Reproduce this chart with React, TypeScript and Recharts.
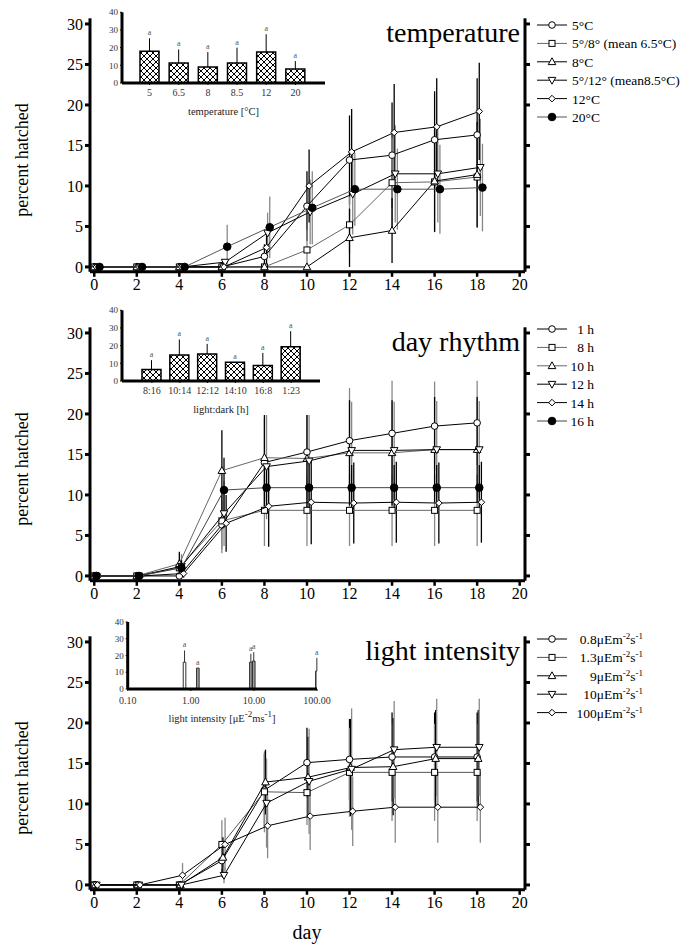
import React from 'react';
import {
  Bar,
  BarChart,
  Cell,
  ComposedChart,
  ErrorBar,
  LabelList,
  Scatter,
  XAxis,
  YAxis
} from 'recharts';

const SERIF = "'Liberation Serif', 'Times New Roman', serif";

// shared axes
const days = [0, 2, 4, 6, 8, 10, 12, 14, 16, 18];
const dayTicks = [0, 2, 4, 6, 8, 10, 12, 14, 16, 18, 20];
const pctTicks = [0, 5, 10, 15, 20, 25, 30];

// temperature panel
const temp5 = [0, 0, 0, 0, 1.3, 7.5, 13.2, 13.8, 15.7, 16.3];
const temp5Err = [0, 0, 0, 0, 1.5, 4.3, 5.5, 6.5, 6, 7];
const temp58 = [0, 0, 0, 0, 0, 2.1, 5.2, 10.4, 10.5, 11.1];
const temp58Err = [0, 0, 0, 0, 0, 2.5, 3.5, 5.5, 6, 6.3];
const temp8 = [0, 0, 0, 0, 0, 0, 3.6, 4.5, 10.6, 11.4];
const temp8Err = [0, 0, 0, 0, 0, 0, 3.6, 4, 6.3, 6.5];
const temp512 = [0, 0, 0, 0.6, 4.2, 6.8, 9.0, 11.5, 11.5, 12.3];
const temp512Err = [0, 0, 0, 0, 2.5, 4, 5, 6, 6, 6];
const temp12 = [0, 0, 0, 0, 2.4, 10.0, 14.2, 16.6, 17.3, 19.2];
const temp12Err = [0, 0, 0, 0, 2, 4.5, 5.3, 6, 6, 6];
const temp20 = [0, 0, 0, 2.5, 4.9, 7.3, 9.6, 9.6, 9.6, 9.8];
const temp20Err = [0, 0, 0, 2.7, 3.8, 4.5, 4.5, 5, 5.5, 5.4];

// day rhythm panel
const day1 = [0, 0, 0, 6.3, 14.0, 15.3, 16.7, 17.6, 18.5, 18.9];
const day1Err = [0, 0, 0, 3, 5.5, 6, 6.5, 6.5, 5.5, 5.2];
const day8 = [0, 0, 1.0, 6.8, 8.1, 8.1, 8.1, 8.1, 8.1, 8.1];
const day8Err = [0, 0, 1, 4, 4.4, 4.4, 4.4, 4.4, 4.4, 4.4];
const day10 = [0, 0, 1.5, 13.0, 14.6, 14.5, 15.2, 15.2, 15.6, 15.6];
const day10Err = [0, 0, 1.5, 5, 6, 6.5, 6.5, 6.5, 6.5, 6.5];
const day12 = [0, 0, 1.2, 7.7, 13.5, 14.2, 15.5, 15.5, 15.6, 15.6];
const day12Err = [0, 0, 1.5, 4, 6.5, 6, 6, 6, 6, 6];
const day14 = [0, 0, 0.3, 6.5, 8.6, 9.1, 9.0, 9.1, 9.0, 9.1];
const day14Err = [0, 0, 0.5, 3.5, 5, 5.2, 5, 5, 5, 5];
const day16 = [0, 0, 1.0, 10.6, 10.9, 10.9, 10.9, 10.9, 10.9, 10.9];
const day16Err = [0, 0, 1, 4, 3, 2.8, 2.8, 2.8, 2.8, 2.8];

// light intensity panel
const light08 = [0, 0, 0, 3.0, 11.7, 15.1, 15.5, 15.8, 15.8, 15.8];
const light08Err = [0, 0, 0, 2, 4.5, 4.3, 5, 5.5, 5.5, 5.5];
const light13 = [0, 0, 0, 5.0, 11.5, 11.4, 13.9, 13.9, 13.9, 13.9];
const light13Err = [0, 0, 0, 3, 5, 4, 5.5, 6, 6, 6];
const light9 = [0, 0, 0, 3.4, 12.7, 13.3, 14.5, 14.6, 15.6, 15.6];
const light9Err = [0, 0, 0, 2.5, 4, 5, 6, 6, 6, 6];
const light10 = [0, 0, 0, 1.2, 10.1, 12.8, 14.3, 16.7, 17.0, 17.0];
const light10Err = [0, 0, 0, 1, 5.5, 6.5, 7.5, 6, 6, 6];
const light100 = [0, 0, 1.2, 5.0, 7.3, 8.5, 9.1, 9.6, 9.6, 9.6];
const light100Err = [0, 0, 1.5, 3.3, 4, 4.2, 4.3, 4.4, 4.4, 4.4];

// insets: total hatched per treatment
const tempCats = ['5', '6.5', '8', '8.5', '12', '20'];
const tempTotal = [18, 11.3, 9, 11.3, 17.5, 7.9];
const tempTotalErr = [7.3, 7.7, 8.5, 8.7, 10.1, 4.5];

const rhythmCats = ['8:16', '10:14', '12:12', '14:10', '16:8', '1:23'];
const rhythmTotal = [6.5, 14.7, 15.3, 10.6, 8.8, 19.4];
const rhythmTotalErr = [5.3, 8.8, 5.7, 0, 7.1, 8.8];

const lightLevels = [0.8, 1.3, 9, 10, 100];
const lightTotal = [16, 12.5, 16, 16.7, 10.7];
const lightTotalErr = [7, 0, 5, 5.3, 7.9];
const lightTicks = [0.1, 1, 10, 100];

type Shape = 'circle' | 'square' | 'up' | 'down' | 'diamond' | 'dot';

interface Series {
  name: string;
  values: number[];
  errs: number[];
  shape: Shape;
  line: string;
  errColor: string;
  dx: number;
}

const tempSeries: Series[] = [
  { name: '5°C', values: temp5, errs: temp5Err, shape: 'circle', line: '#000', errColor: '#000', dx: 0 },
  { name: '5°/8° (mean 6.5°C)', values: temp58, errs: temp58Err, shape: 'square', line: '#666', errColor: '#888', dx: 0 },
  { name: '8°C', values: temp8, errs: temp8Err, shape: 'up', line: '#000', errColor: '#000', dx: 0 },
  { name: '5°/12° (mean8.5°C)', values: temp512, errs: temp512Err, shape: 'down', line: '#000', errColor: '#888', dx: 0.15 },
  { name: '12°C', values: temp12, errs: temp12Err, shape: 'diamond', line: '#000', errColor: '#000', dx: 0.1 },
  { name: '20°C', values: temp20, errs: temp20Err, shape: 'dot', line: '#555', errColor: '#888', dx: 0.25 }
];

const rhythmSeries: Series[] = [
  { name: '1 h', values: day1, errs: day1Err, shape: 'circle', line: '#000', errColor: '#888', dx: 0 },
  { name: '8 h', values: day8, errs: day8Err, shape: 'square', line: '#666', errColor: '#888', dx: 0 },
  { name: '10 h', values: day10, errs: day10Err, shape: 'up', line: '#666', errColor: '#000', dx: 0 },
  { name: '12 h', values: day12, errs: day12Err, shape: 'down', line: '#000', errColor: '#888', dx: 0.1 },
  { name: '14 h', values: day14, errs: day14Err, shape: 'diamond', line: '#000', errColor: '#000', dx: 0.2 },
  { name: '16 h', values: day16, errs: day16Err, shape: 'dot', line: '#444', errColor: '#000', dx: 0.1 }
];

const lightSeries: Series[] = [
  { name: '0.8μEm^-2s^-1', values: light08, errs: light08Err, shape: 'circle', line: '#000', errColor: '#000', dx: 0 },
  { name: '1.3μEm^-2s^-1', values: light13, errs: light13Err, shape: 'square', line: '#555', errColor: '#888', dx: 0 },
  { name: '9μEm^-2s^-1', values: light9, errs: light9Err, shape: 'up', line: '#000', errColor: '#000', dx: 0.05 },
  { name: '10μEm^-2s^-1', values: light10, errs: light10Err, shape: 'down', line: '#000', errColor: '#888', dx: 0.1 },
  { name: '100μEm^-2s^-1', values: light100, errs: light100Err, shape: 'diamond', line: '#000', errColor: '#888', dx: 0.15 }
];

const Marker = ({ shape, cx, cy }: { shape: Shape; cx: number; cy: number }) => {
  const common = { fill: '#fff', stroke: '#000', strokeWidth: 1 };
  switch (shape) {
    case 'circle':
      return <circle cx={cx} cy={cy} r={3.3} {...common} />;
    case 'square':
      return <rect x={cx - 3} y={cy - 3} width={6} height={6} {...common} />;
    case 'up':
      return <polygon points={`${cx},${cy - 4} ${cx + 3.8},${cy + 2.8} ${cx - 3.8},${cy + 2.8}`} {...common} />;
    case 'down':
      return <polygon points={`${cx},${cy + 4} ${cx + 3.8},${cy - 2.8} ${cx - 3.8},${cy - 2.8}`} {...common} />;
    case 'diamond':
      return <polygon points={`${cx},${cy - 3.3} ${cx + 3.3},${cy} ${cx},${cy + 3.3} ${cx - 3.3},${cy}`} {...common} />;
    default:
      return <circle cx={cx} cy={cy} r={3.8} fill="#000" stroke="#000" />;
  }
};

const SupText = ({ text, ...rest }: any) => {
  const parts = text.split(/\^(-?\d+)/);
  return (
    <text {...rest}>
      {parts.map((p: string, i: number) =>
        i % 2 ? (
          <tspan key={i} dy={-5} fontSize={9}>{p}</tspan>
        ) : (
          <tspan key={i} dy={i ? 5 : 0}>{p}</tspan>
        )
      )}
    </text>
  );
};

const thick = { stroke: '#000', strokeWidth: 3 };

const TimeCourse = ({ series }: { series: Series[] }) => (
  <ComposedChart
    width={681}
    height={309}
    margin={{ top: 18.3, right: 146, bottom: 7.2, left: 15 }}
  >
    <XAxis
      dataKey="x"
      type="number"
      domain={[-0.2, 20.25]}
      ticks={dayTicks}
      allowDataOverflow
      height={30}
      axisLine={thick}
      tickLine={{ stroke: '#000', strokeWidth: 2.5 }}
      tickSize={5}
      tick={{ fill: '#000', fontSize: 16, fontFamily: SERIF }}
    />
    <XAxis
      xAxisId="top"
      orientation="top"
      type="number"
      domain={[-0.2, 20.25]}
      height={0}
      tick={false}
      tickLine={false}
      axisLine={{ stroke: '#000', strokeWidth: 4 }}
    />
    <YAxis
      dataKey="y"
      type="number"
      domain={[-0.6, 30.7]}
      ticks={pctTicks}
      allowDataOverflow
      width={75}
      axisLine={thick}
      tickLine={{ stroke: '#000', strokeWidth: 3 }}
      tickSize={5}
      tick={{ fill: '#000', fontSize: 16, fontFamily: SERIF }}
    />
    <YAxis
      yAxisId="r"
      orientation="right"
      type="number"
      domain={[-0.6, 30.7]}
      ticks={pctTicks}
      allowDataOverflow
      width={10}
      axisLine={thick}
      tickLine={{ stroke: '#000', strokeWidth: 3 }}
      tickSize={5}
      tickFormatter={() => ''}
    />
    {series.map((s) => (
      <Scatter
        key={s.name}
        name={s.name}
        data={days.map((d, i) => ({ x: d + s.dx, y: s.values[i], err: s.errs[i] }))}
        line={{ stroke: s.line, strokeWidth: 1 }}
        shape={(p: any) => <Marker shape={s.shape} cx={p.cx} cy={p.cy} />}
        isAnimationActive={false}
      >
        <ErrorBar dataKey="err" direction="y" width={0} stroke={s.errColor} strokeWidth={1.3} />
      </Scatter>
    ))}
  </ComposedChart>
);

const aLabel = (vals: number[], errs: number[]) => (p: any) => {
  const { x, y, width, height, index } = p;
  const perUnit = vals[index] ? Math.abs(height) / vals[index] : 0;
  const top = y - errs[index] * perUnit;
  return (
    <text x={x + width / 2} y={top - 3} textAnchor="middle" fontSize={8} fill="#555" fontFamily={SERIF}>
      a
    </text>
  );
};

const insetTick = { fill: '#333', fontSize: 9, fontFamily: SERIF };

const HatchDefs = ({ id }: { id: string }) => (
  <defs>
    <pattern id={id} width={6} height={6} patternUnits="userSpaceOnUse">
      <rect width={6} height={6} fill="#fff" />
      <path d="M0,0 L6,6 M6,0 L0,6" stroke="#000" strokeWidth={1} />
    </pattern>
  </defs>
);

const CategoryInset = ({
  id,
  cats,
  vals,
  errs,
  title,
  width,
  padding
}: {
  id: string;
  cats: string[];
  vals: number[];
  errs: number[];
  title: string;
  width: number;
  padding: { left: number; right: number };
}) => {
  const data = cats.map((c, i) => ({ cat: c, value: vals[i], range: [0, errs[i]] }));
  return (
    <BarChart width={width} height={112} data={data} margin={{ top: 7.3, right: 5, bottom: 2, left: 0 }}>
      <HatchDefs id={id} />
      <XAxis
        dataKey="cat"
        height={32}
        padding={padding}
        axisLine={thick}
        tickLine={{ stroke: '#000' }}
        tickSize={2}
        tickMargin={4}
        tick={{ ...insetTick, fontSize: 10 }}
        label={{ value: title, position: 'insideBottom', offset: 0, fill: '#222', fontSize: 10.5, fontFamily: SERIF }}
      />
      <YAxis
        type="number"
        domain={[0, 40]}
        ticks={[0, 10, 20, 30, 40]}
        width={29}
        axisLine={thick}
        tickLine={{ stroke: '#000' }}
        tickSize={2}
        tick={insetTick}
      />
      <Bar dataKey="value" fill={`url(#${id})`} stroke="#000" strokeWidth={1.5} barSize={19} isAnimationActive={false}>
        <ErrorBar dataKey="range" direction="y" width={0} stroke="#000" strokeWidth={1} />
        <LabelList dataKey="value" content={aLabel(vals, errs)} />
      </Bar>
    </BarChart>
  );
};

const LightInset = () => {
  const data = lightLevels.map((l, i) => ({ level: l, value: lightTotal[i], range: [0, lightTotalErr[i]] }));
  return (
    <BarChart width={242} height={112} data={data} margin={{ top: 8, right: 18, bottom: 4, left: 0 }}>
      <XAxis
        dataKey="level"
        type="number"
        scale="log"
        domain={[0.1, 100]}
        ticks={lightTicks}
        allowDataOverflow
        height={33}
        axisLine={thick}
        tickLine={{ stroke: '#000' }}
        tickSize={2}
        tickMargin={6}
        tick={{ ...insetTick, fontSize: 10 }}
        tickFormatter={(v: number) => v.toFixed(2)}
      />
      <YAxis
        type="number"
        domain={[0, 40]}
        ticks={[0, 10, 20, 30, 40]}
        width={34.7}
        axisLine={thick}
        tickLine={{ stroke: '#000' }}
        tickSize={2}
        tick={insetTick}
      />
      <Bar dataKey="value" barSize={3} stroke="#333" strokeWidth={1} isAnimationActive={false}>
        {data.map((d, i) => (
          <Cell key={i} fill={i === 0 ? '#fff' : '#9a9a9a'} />
        ))}
        <ErrorBar dataKey="range" direction="y" width={0} stroke="#333" strokeWidth={1} />
        <LabelList dataKey="value" content={aLabel(lightTotal, lightTotalErr)} />
      </Bar>
    </BarChart>
  );
};

const Legend = ({ series, y0, textX, anchor }: { series: Series[]; y0: number; textX: number; anchor: 'start' | 'end' }) => (
  <g>
    {series.map((s, i) => {
      const y = y0 + i * 18.4;
      return (
        <g key={s.name}>
          <line x1={537} x2={567} y1={y} y2={y} stroke={s.line} strokeWidth={1} />
          <Marker shape={s.shape} cx={552} cy={y} />
          <SupText text={s.name} x={textX} y={y + 5} textAnchor={anchor} fontSize={13.5} fontFamily={SERIF} fill="#000" />
        </g>
      );
    })}
  </g>
);

const panelTops = [0, 309, 618];
const titles = ['temperature', 'day rhythm', 'light intensity'];

export default function App() {
  return (
    <div style={{ position: 'absolute', left: 0, top: 0, width: 681, height: 947, background: '#fff' }}>
      {[tempSeries, rhythmSeries, lightSeries].map((s, i) => (
        <div key={i} style={{ position: 'absolute', left: 0, top: panelTops[i] }}>
          <TimeCourse series={s} />
        </div>
      ))}
      <div style={{ position: 'absolute', left: 93, top: 5, background: '#fff' }}>
        <CategoryInset
          id="hatchTemp"
          cats={tempCats}
          vals={tempTotal}
          errs={tempTotalErr}
          title="temperature [°C]"
          width={237}
          padding={{ left: 13, right: 15 }}
        />
      </div>
      <div style={{ position: 'absolute', left: 93, top: 303, background: '#fff' }}>
        <CategoryInset
          id="hatchDay"
          cats={rhythmCats}
          vals={rhythmTotal}
          errs={rhythmTotalErr}
          title="light:dark [h]"
          width={232}
          padding={{ left: 16, right: 15 }}
        />
      </div>
      <div style={{ position: 'absolute', left: 93, top: 614, background: '#fff' }}>
        <LightInset />
      </div>
      <svg
        width={681}
        height={947}
        style={{ position: 'absolute', left: 0, top: 0, pointerEvents: 'none' }}
      >
        {panelTops.map((t, i) => (
          <g key={i}>
            <text
              transform={`translate(28, ${t + 160}) rotate(-90)`}
              textAnchor="middle"
              fontSize={18}
              fontFamily={SERIF}
              fill="#000"
            >
              percent hatched
            </text>
            <text x={520} y={t + 42} textAnchor="end" fontSize={28} fontFamily={SERIF} fill="#000">
              {titles[i]}
            </text>
          </g>
        ))}
        <Legend series={tempSeries} y0={25} textX={572} anchor="start" />
        <Legend series={rhythmSeries} y0={329} textX={594} anchor="end" />
        <Legend series={lightSeries} y0={639} textX={643} anchor="end" />
        <SupText
          text="light intensity [μE^-2ms^-1]"
          x={222}
          y={722}
          textAnchor="middle"
          fontSize={10.5}
          fontFamily={SERIF}
          fill="#222"
        />
        <text x={307} y={939} textAnchor="middle" fontSize={20} fontFamily={SERIF} fill="#000">
          day
        </text>
      </svg>
    </div>
  );
}
